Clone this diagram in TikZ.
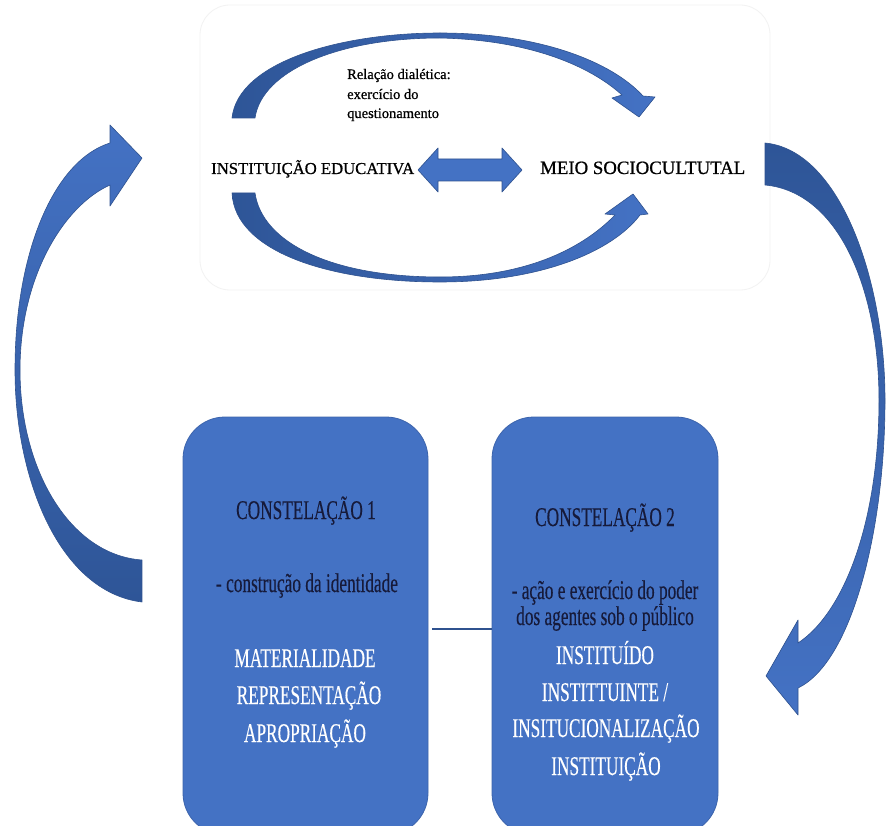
\documentclass[tikz,border=0pt]{standalone}
\usepackage{fontspec}
\setmainfont{Liberation Serif}
\newfontfamily\condf[FakeStretch=0.64,FakeBold=0.3]{Liberation Serif}
\newfontfamily\topf[FakeBold=0.8]{Liberation Serif}
\usetikzlibrary{calc}
\definecolor{obox}{HTML}{4472C4}
\definecolor{oedge}{HTML}{2F528F}
\definecolor{odark}{HTML}{2E5597}
\definecolor{darktxt}{HTML}{161A3A}
\begin{document}
\begin{tikzpicture}[x=1pt,y=-1pt,
  arrowshape/.style={draw=oedge, line width=0.6pt, line join=round},
  cbox/.style={fill=obox, draw=obox!88!black, line width=0.8pt, rounded corners=42pt, inner sep=0pt},
  panel/.style={draw=black!5, fill=white, rounded corners=30pt, line width=0.8pt, inner sep=0pt},
  btxt/.style={font=\condf\fontsize{27}{32}\selectfont, anchor=base, inner sep=0pt},
  dark/.style={text=darktxt},
  light/.style={text=white},
  toptxt/.style={anchor=base west, inner sep=0pt, text=black},
  conn/.style={draw=oedge, line width=2pt}
]
\useasboundingbox (0,0) rectangle (886,826);
\clip (0,0) rectangle (886,826);
\fill[white] (0,0) rectangle (886,826);

% top panel
\node[panel, minimum width=570pt, minimum height=285pt] (panel) at (485,147.5) {};

% top arc arrow
\path[arrowshape, left color=odark, right color=obox]
  (232,118) .. controls (238,62) and (340,33) .. (440,33)
  .. controls (540,33) and (612,62) .. (643,96)
  -- (655,97) -- (639,117) -- (612,98) -- (622,95)
  .. controls (590,66) and (530,40) .. (440,38)
  .. controls (340,38) and (262,70) .. (255,118) -- cycle;

% bottom arc arrow
\path[arrowshape, left color=odark, right color=obox]
  (232,193) .. controls (235,252) and (330,282) .. (440,282)
  .. controls (540,282) and (612,252) .. (640,215)
  -- (648,214) -- (633,194) -- (605,214) -- (615,215)
  .. controls (585,246) and (530,277) .. (440,277)
  .. controls (330,277) and (262,242) .. (255,193) -- cycle;

% double arrow
\path[arrowshape, fill=obox]
  (418,170) -- (438,148) -- (438,159) -- (502,159) -- (502,148) -- (522,170)
  -- (502,192) -- (502,181) -- (438,181) -- (438,192) -- cycle;

% top texts
\node[toptxt] (inst) at (211,174) {\resizebox{203pt}{!}{\topf INSTITUIÇÃO EDUCATIVA}};
\node[toptxt] (meio) at (540,174) {\resizebox{205pt}{!}{\topf MEIO SOCIOCULTUTAL}};
\node[toptxt, font=\topf\fontsize{14.5}{18}\selectfont] (rel1) at (347,79) {Relação dialética:};
\node[toptxt, font=\topf\fontsize{14.5}{18}\selectfont] (rel2) at (347,99) {exercício do};
\node[toptxt, font=\topf\fontsize{14.5}{18}\selectfont] (rel3) at (347,118) {questionamento};

% left big arrow
\path[arrowshape, top color=obox, bottom color=odark]
  (142,602) .. controls (60,592) and (15,480) .. (15,370)
  .. controls (15,250) and (55,160) .. (110,143)
  -- (110,125) -- (142,158) -- (110,206) -- (110,185)
  .. controls (65,205) and (20,275) .. (20,370)
  .. controls (20,470) and (70,555) .. (142,560) -- cycle;

% right big arrow
\path[arrowshape, top color=odark, bottom color=obox]
  (765,143) .. controls (840,150) and (885,280) .. (885,400)
  .. controls (885,530) and (852,662) .. (798,688)
  -- (798,715) -- (766,676) -- (798,620) -- (798,643)
  .. controls (845,612) and (879,520) .. (879,400)
  .. controls (879,292) and (840,192) .. (765,185) -- cycle;

% boxes
\node[cbox, minimum width=245pt, minimum height=418pt] (box1) at (305.5,626) {};
\node[cbox, minimum width=226pt, minimum height=418pt] (box2) at (605,626) {};
\draw[conn, shorten <=4pt] ($(box1.east)+(0,3)$) -- ($(box2.west)+(0,3)$);

% box 1 texts
\node[btxt, dark] (c1) at (306,519) {CONSTELAÇÃO 1};
\node[btxt, dark] (c1a) at (307,592) {- construção da identidade};
\node[btxt, light] (c1b) at (305,667) {MATERIALIDADE};
\node[btxt, light] (c1c) at (309,704) {REPRESENTAÇÃO};
\node[btxt, light] (c1d) at (305,742) {APROPRIAÇÃO};

% box 2 texts
\node[btxt, dark] (c2) at (605,526) {CONSTELAÇÃO 2};
\node[btxt, dark] (c2a) at (605,599) {- ação e exercício do poder};
\node[btxt, dark] (c2b) at (605,625) {dos agentes sob o público};
\node[btxt, light] (c2c) at (605,664) {INSTITUÍDO};
\node[btxt, light] (c2d) at (605,701) {INSTITTUINTE /};
\node[btxt, light] (c2e) at (606,737) {INSITUCIONALIZAÇÃO};
\node[btxt, light] (c2f) at (606,775) {INSTITUIÇÃO};
\end{tikzpicture}
\end{document}
